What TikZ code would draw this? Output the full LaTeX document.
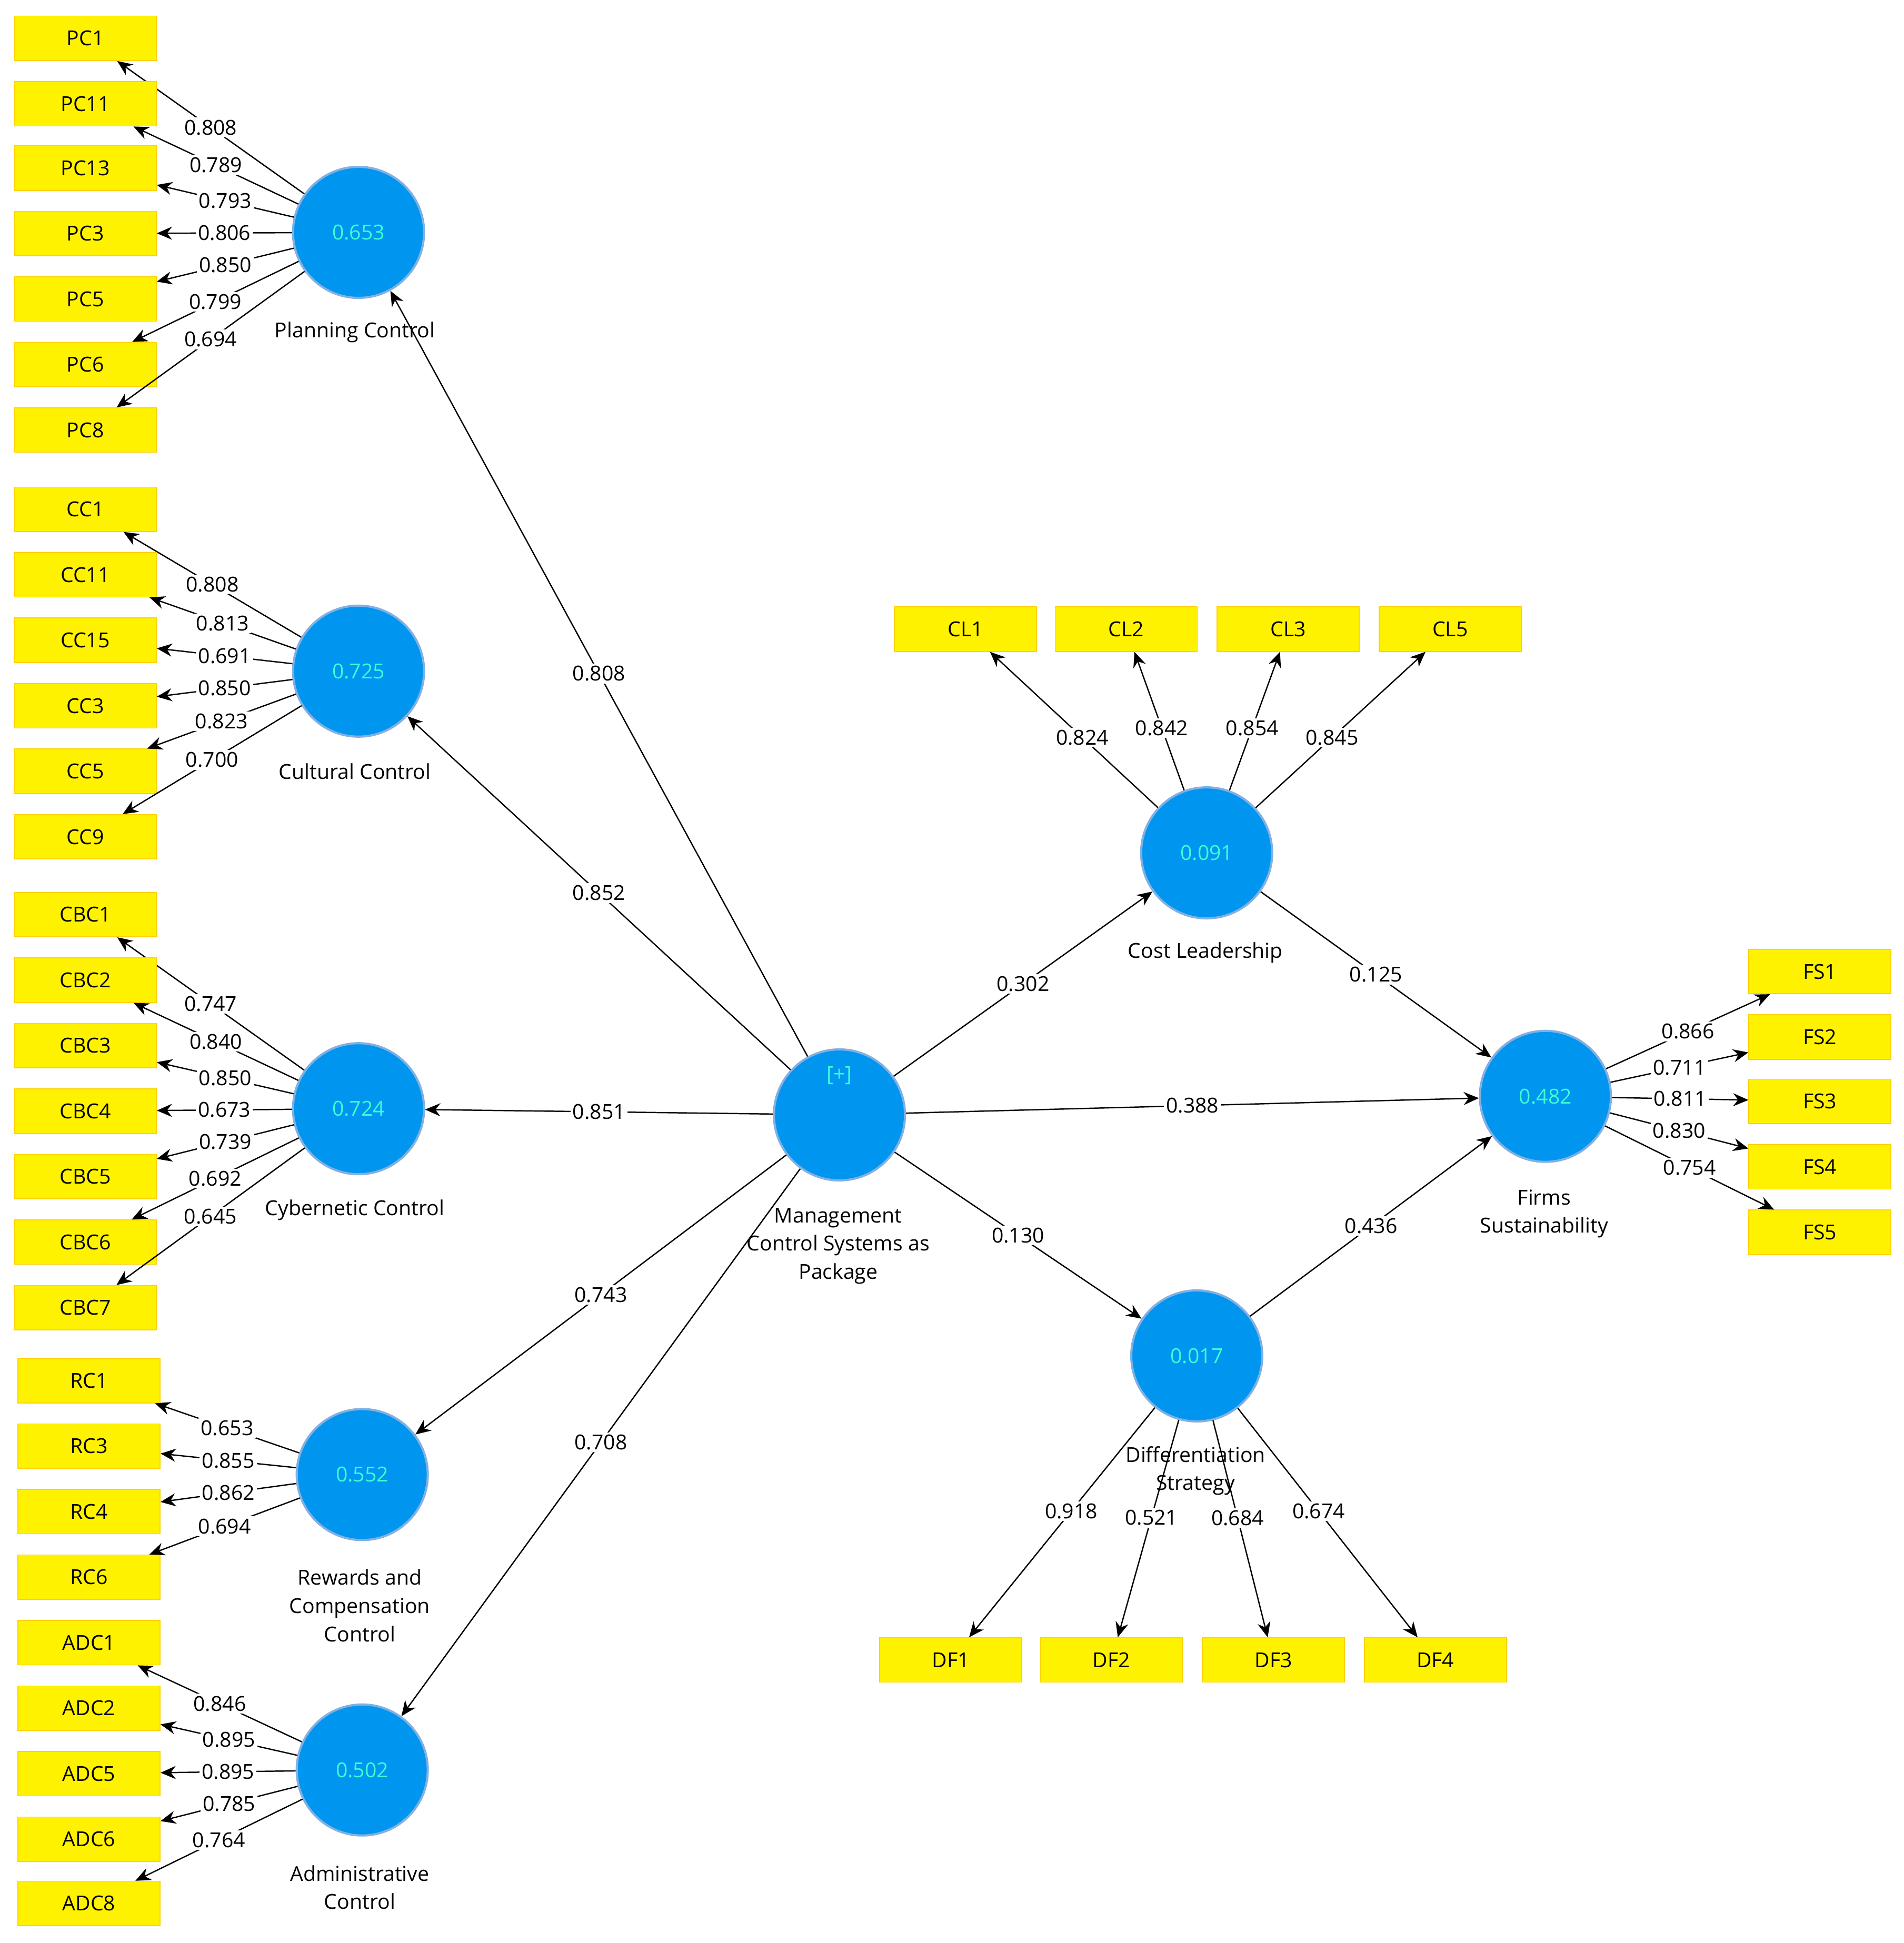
\documentclass[tikz,border=0pt]{standalone}
\usepackage{fontspec}
\setmainfont{Open Sans}
\usetikzlibrary{arrows.meta}
\begin{document}
\begin{tikzpicture}[x=0.02cm,y=-0.02cm,
  ind/.style={draw=yellow!70!orange,fill=yellow,minimum width=2.3cm,minimum height=0.72cm,inner sep=0,font=\fontsize{9.5}{11}\selectfont},
  lv/.style={circle,draw=cyan!60!blue!50,line width=1pt,fill={rgb,255:red,0;green,150;blue,240},minimum size=2.12cm,inner sep=0,text={rgb,255:red,60;green,255;blue,210},font=\fontsize{9.5}{11}\selectfont},
  arr/.style={-{Stealth[length=7pt,width=6pt]},black,line width=0.6pt},
  lab/.style={fill=white,inner sep=1pt,font=\fontsize{9.5}{11}\selectfont},
  captxt/.style={align=center,font=\fontsize{9.5}{13}\selectfont}]
\useasboundingbox (0,0) rectangle (1540,1572);
% latent variables
\node[lv] (pc) at (290,188) {0.653};
\node[lv] (cc) at (290,543) {0.725};
\node[lv] (cbc) at (290,897) {0.724};
\node[lv] (rc) at (293,1193) {0.552};
\node[lv] (adc) at (293,1432) {0.502};
\node[lv] (mcs) at (679,902) {};
\node[text={rgb,255:red,60;green,255;blue,210},font=\fontsize{9.5}{11}\selectfont] (plus) at (679,870) {[+]};
\node[lv] (cl) at (976,690) {0.091};
\node[lv] (df) at (968,1097) {0.017};
\node[lv] (fs) at (1250,887) {0.482};
% captions
\node[captxt] (c1) at (287,269) {Planning Control};
\node[captxt] (c2) at (287,624) {Cultural Control};
\node[captxt] (c3) at (287,979) {Cybernetic Control};
\node[captxt] (c4) at (291,1299) {Rewards and\\Compensation\\Control};
\node[captxt] (c5) at (291,1527) {Administrative\\Control};
\node[captxt] (c6) at (678,1008) {Management\\Control Systems as\\Package};
\node[captxt] (c7) at (975,771) {Cost Leadership};
\node[captxt] (c8) at (967,1190) {Differentiation\\Strategy};
\node[captxt] (c9) at (1249,982) {Firms\\Sustainability};
% indicators left
\foreach \n/\y/\l in {PC1/31/0.808,PC11/84/0.789,PC13/136/0.793,PC3/189/0.806,PC5/242/0.850,PC6/295/0.799,PC8/348/0.694}{
  \node[ind] (\n) at (69,\y) {\n};
  \draw[arr] (pc) -- node[lab]{\l} (\n);}
\foreach \n/\y/\l in {CC1/412/0.808,CC11/465/0.813,CC15/518/0.691,CC3/571/0.850,CC5/624/0.823,CC9/677/0.700}{
  \node[ind] (\n) at (69,\y) {\n};
  \draw[arr] (cc) -- node[lab]{\l} (\n);}
\foreach \n/\y/\l in {CBC1/740/0.747,CBC2/793/0.840,CBC3/846/0.850,CBC4/899/0.673,CBC5/952/0.739,CBC6/1005/0.692,CBC7/1058/0.645}{
  \node[ind] (\n) at (69,\y) {\n};
  \draw[arr] (cbc) -- node[lab]{\l} (\n);}
\foreach \n/\y/\l in {RC1/1117/0.653,RC3/1170/0.855,RC4/1223/0.862,RC6/1276/0.694}{
  \node[ind] (\n) at (72,\y) {\n};
  \draw[arr] (rc) -- node[lab]{\l} (\n);}
\foreach \n/\y/\l in {ADC1/1329/0.846,ADC2/1382/0.895,ADC5/1435/0.895,ADC6/1488/0.785,ADC8/1540/0.764}{
  \node[ind] (\n) at (72,\y) {\n};
  \draw[arr] (adc) -- node[lab]{\l} (\n);}
\foreach \n/\x/\l in {CL1/781/0.824,CL2/911/0.842,CL3/1042/0.854,CL5/1173/0.845}{
  \node[ind] (\n) at (\x,509) {\n};
  \draw[arr] (cl) -- node[lab,pos=0.45]{\l} (\n);}
\foreach \n/\x/\l in {DF1/769/0.918,DF2/899/0.521,DF3/1030/0.684,DF4/1161/0.674}{
  \node[ind] (\n) at (\x,1343) {\n};
  \draw[arr] (df) -- node[lab,pos=0.45]{\l} (\n);}
\foreach \n/\y/\l in {FS1/786/0.866,FS2/839/0.711,FS3/891/0.811,FS4/944/0.830,FS5/997/0.754}{
  \node[ind] (\n) at (1472,\y) {\n};
  \draw[arr] (fs) -- node[lab]{\l} (\n);}
% structural paths
\draw[arr] (mcs) -- node[lab]{0.808} (pc);
\draw[arr] (mcs) -- node[lab]{0.852} (cc);
\draw[arr] (mcs) -- node[lab]{0.851} (cbc);
\draw[arr] (mcs) -- node[lab]{0.743} (rc);
\draw[arr] (mcs) -- node[lab]{0.708} (adc);
\draw[arr] (mcs) -- node[lab]{0.302} (cl);
\draw[arr] (mcs) -- node[lab]{0.388} (fs);
\draw[arr] (mcs) -- node[lab]{0.130} (df);
\draw[arr] (cl) -- node[lab]{0.125} (fs);
\draw[arr] (df) -- node[lab]{0.436} (fs);
\end{tikzpicture}
\end{document}
